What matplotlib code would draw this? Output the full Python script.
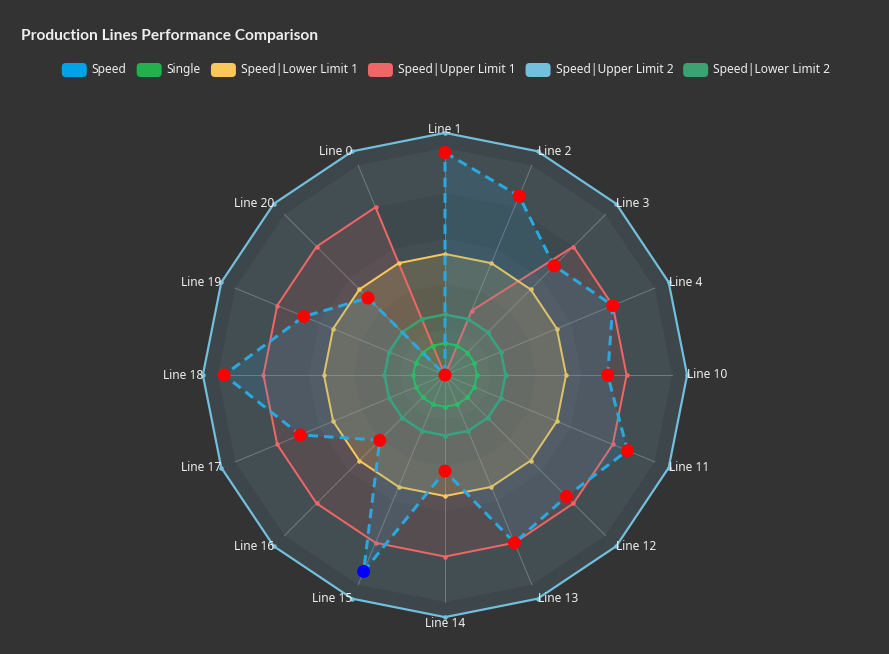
import numpy as np
import matplotlib
matplotlib.use('Agg')
import matplotlib.pyplot as plt
from matplotlib.patches import FancyBboxPatch, Polygon

# ---------------- data ----------------
indicators = ['Line 1', 'Line 2', 'Line 3', 'Line 4', 'Line 10', 'Line 11', 'Line 12',
              'Line 13', 'Line 14', 'Line 15', 'Line 16', 'Line 17', 'Line 18', 'Line 19',
              'Line 20', 'Line 0']
axis_max = 150
speed = [147, 128, 102, 120, 107.5, 130.5, 113.5, 120, 63.5, 140.5, 61, 103.5, 146, 101, 72, 0]
single = [21, 21, 21, 21, 21, 21, 21, 21, 21, 21, 21, 21, 21, 21, 21, 21]
lower_limit_1 = [80, 80, 80, 80, 80, 80, 80, 80, 80, 80, 80, 80, 80, 80, 80, 80]
upper_limit_1 = [0, 46, 120, 120, 120, 120, 120, 120, 120, 120, 120, 120, 120, 120, 120, 120]
upper_limit_2 = [160, 160, 160, 160, 160, 160, 160, 160, 160, 160, 160, 160, 160, 160, 160, 160]
lower_limit_2 = [40, 40, 40, 40, 40, 40, 40, 40, 40, 40, 40, 40, 40, 40, 40, 40]
highlight_line = 'Line 15'

title = 'Production Lines Performance Comparison'
series_names = ['Speed', 'Single', 'Speed|Lower Limit 1', 'Speed|Upper Limit 1',
                'Speed|Upper Limit 2', 'Speed|Lower Limit 2']
legend_colors = ['#00a3e8', '#22b14c', '#fac858', '#ee6666', '#73c0de', '#3ba272']

# ---------------- layout ----------------
W, H, DPI = 889, 654, 100
BG = '#333333'
FONT = 'Noto Sans'
PX = 72.0 / DPI  # points per pixel

fig = plt.figure(figsize=(W / DPI, H / DPI), dpi=DPI, facecolor=BG)
cx, cy, R = 445, 375, 227

ax = fig.add_axes([0, 0, 1, 1])
ax.set_xlim(-cx / R, (W - cx) / R)
ax.set_ylim(-(H - cy) / R, cy / R)
ax.set_facecolor(BG)
ax.axis('off')

n = len(indicators)
theta = 2 * np.pi * np.arange(n) / n
sx, sy = np.sin(theta), np.cos(theta)


def xy(vals):
    r = np.asarray(vals, float) / axis_max
    return r * sx, r * sy


# split areas (opaque rings, outer to inner)
split_number = 5
band_colors = ['#3c3c3c', '#363636']  # lighter / darker
for k in range(split_number, 0, -1):
    r = k / split_number
    col = band_colors[0] if (k - 1) % 2 == 0 else band_colors[1]
    ax.add_patch(Polygon(np.c_[r * sx, r * sy], closed=True, facecolor=col,
                         edgecolor='none', zorder=1))

# axis lines
for i in range(n):
    ax.plot([0, sx[i]], [0, sy[i]], color='#9a9a9a', alpha=0.55, lw=1 * PX, zorder=2)

# limit series: (values, color, fill alpha, linewidth px, marker px)
limit_series = [
    (upper_limit_2, '#73c0de', 0.14, 2.2, 4.5),
    (upper_limit_1, '#ee6666', 0.14, 2.0, 4.5),
    (lower_limit_1, '#fac858', 0.17, 2.0, 4.5),
    (lower_limit_2, '#3ba272', 0.14, 2.5, 5.0),
    (single, '#2bbf55', 0.10, 2.0, 5.0),
]
for vals, col, a, lw, ms in limit_series:
    x, y = xy(vals)
    ax.add_patch(Polygon(np.c_[x, y], closed=True, facecolor=col, alpha=a,
                         edgecolor='none', zorder=3))
for vals, col, a, lw, ms in limit_series:
    x, y = xy(vals)
    ax.plot(np.r_[x, x[0]], np.r_[y, y[0]], color=col, lw=lw * PX, zorder=4,
            solid_joinstyle='miter')
    ax.plot(x, y, 'o', color=col, ms=ms * PX, mew=0, zorder=4)

# speed series
x, y = xy(speed)
ax.add_patch(Polygon(np.c_[x, y], closed=True, facecolor='#29a9e1', alpha=0.14,
                     edgecolor='none', zorder=5))
ax.plot(np.r_[x, x[0]], np.r_[y, y[0]], color='#2aa9e0', lw=3 * PX,
        linestyle=(0, (3.2, 2.0)), zorder=6)
pt_colors = ['#0000ff' if name == highlight_line else '#ff0000' for name in indicators]
ax.scatter(x, y, s=(13 * PX) ** 2, c=pt_colors, linewidths=0, zorder=7)

# indicator names
rl = (R + 15) / R
for i, name in enumerate(indicators):
    s, c = sx[i], sy[i]
    ha = 'center' if abs(s) < 0.01 else ('left' if s > 0 else 'right')
    va = 'baseline' if c > 0.99 else ('top' if c < -0.99 else 'center')
    ax.text(rl * s, rl * c, name, ha=ha, va=va, color='#eeeeee',
            fontsize=12 * PX, family=FONT, zorder=8)

# ---------------- title & legend (pixel overlay) ----------------
ov = fig.add_axes([0, 0, 1, 1])
ov.set_xlim(0, W)
ov.set_ylim(H, 0)
ov.axis('off')
ov.patch.set_alpha(0)

ov.text(21, 36, title, ha='left', va='center', color='#eeeeee', fontsize=15.5 * PX,
        fontweight='bold', family=['Lato', 'Liberation Sans', 'DejaVu Sans'])

fig.canvas.draw()
renderer = fig.canvas.get_renderer()
icon_w, icon_h, icon_gap, item_gap = 25, 14, 5, 10
widths = []
for name in series_names:
    t = ov.text(0, 0, name, fontsize=12 * PX, family=FONT)
    widths.append(t.get_window_extent(renderer).width)
    t.remove()
total = sum(icon_w + icon_gap + w for w in widths) + item_gap * (len(widths) - 1)
xpos = cx + 1 - total / 2
ly = 70
for name, col, w in zip(series_names, legend_colors, widths):
    ov.add_patch(FancyBboxPatch((xpos, ly - icon_h / 2), icon_w, icon_h,
                                boxstyle='round,pad=0,rounding_size=4',
                                facecolor=col, edgecolor='none'))
    ov.text(xpos + icon_w + icon_gap, ly, name, ha='left', va='center',
            color='#eeeeee', fontsize=12 * PX, family=FONT)
    xpos += icon_w + icon_gap + w + item_gap

fig.savefig('out.png', dpi=DPI, facecolor=BG)
